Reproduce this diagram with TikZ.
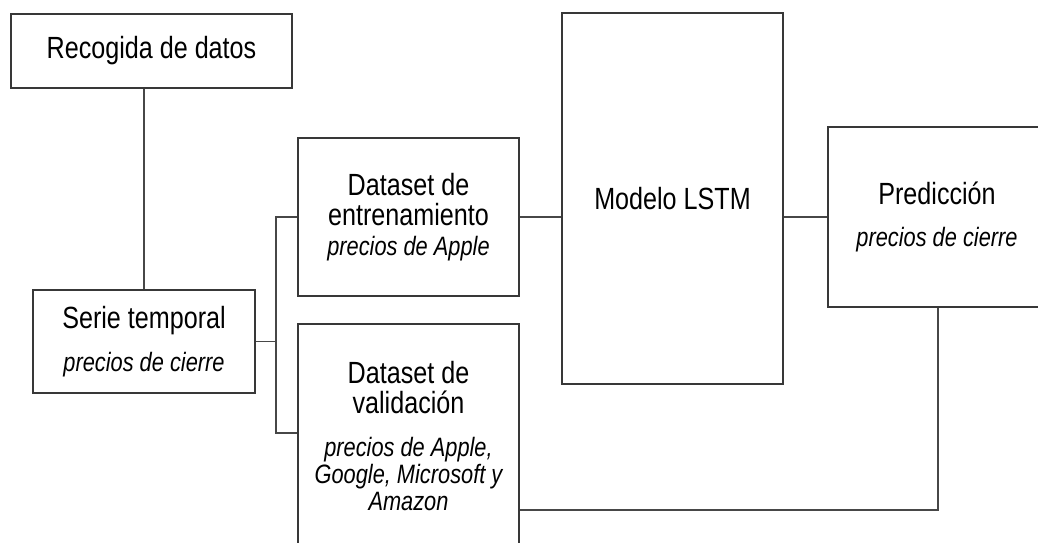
\documentclass[tikz,border=0pt]{standalone}
\usepackage{fontspec}
\setmainfont[FakeStretch=0.82]{Liberation Sans}
\usetikzlibrary{calc}

\newcommand{\ttl}{\fontsize{21.8}{21.3}\selectfont}
\newcommand{\subf}{\fontsize{18.9}{18.9}\selectfont\itshape}

\tikzset{
  block/.style={draw=black!78, line width=1.05pt, rectangle, fill=white,
    align=center, inner sep=0pt, font=\ttl},
  link/.style={draw=black!72, line width=0.8pt},
}

\begin{document}
\begin{tikzpicture}[x=0.025cm, y=-0.025cm]
  \useasboundingbox (0,0) rectangle (1038,543);
  \clip (0,0) rectangle (1038,543);
  \fill[white] (0,0) rectangle (1038,543);

  % blocks (positions in px from the top-left corner)
  \node[block, minimum width=7.025cm, minimum height=1.85cm] (rec) at (151.5,51)
    {Recogida de datos};
  \node[block, minimum width=5.55cm, minimum height=2.575cm] (serie) at (144,341.5)
    {Serie temporal\\[9pt]\subf precios de cierre};
  \node[block, minimum width=5.525cm, minimum height=3.95cm] (train) at (408.5,217)
    {Dataset de\\entrenamiento\\\subf precios de Apple};
  \node[block, minimum width=5.525cm, minimum height=5.6cm] (valid) at (408.5,436)
    {Dataset de\\validación\\[9pt]\subf precios de Apple,\\[-2pt]\subf Google, Microsoft y\\[-2pt]\subf Amazon};
  \node[block, minimum width=5.525cm, minimum height=9.275cm] (lstm) at (672.5,198.5)
    {Modelo LSTM};
  \node[block, minimum width=5.45cm, minimum height=4.5cm] (pred) at (937,217)
    {Predicción\\[9pt]\subf precios de cierre};

  % junction points
  \coordinate (busT) at (276,217);
  \coordinate (busB) at (276,433);
  \coordinate (fb) at (938,510);

  % connectors
  \draw[link] (serie.north) -- (serie.north |- rec.south);
  \draw[link] (serie.east) -- (serie.east -| busT);
  \draw[link] (train.west) -- (busT) -- (busB) -- (valid.west |- busB);
  \draw[link] (train.east) -- (train.east -| lstm.west);
  \draw[link] (pred.west) -- (pred.west -| lstm.east);
  \draw[link] (pred.south -| fb) -- (fb) -- (valid.east |- fb);
\end{tikzpicture}
\end{document}
